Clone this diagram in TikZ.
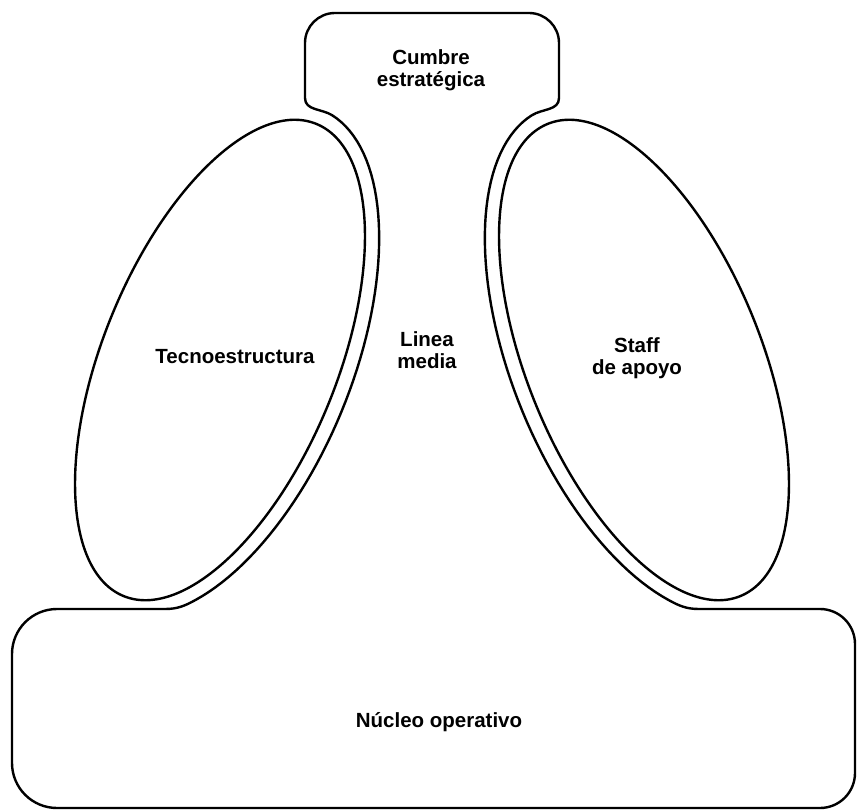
\documentclass[tikz,border=0pt]{standalone}
\usepackage{fontspec}
\setmainfont{Liberation Sans}
\usepackage{tikz}

\begin{document}
\begin{tikzpicture}[
x=0.5pt, y=0.5pt,
outline/.style={draw=black, line width=1.2pt, line join=round},
lobe/.style={draw=black, line width=1.2pt},
tag/.style={align=center, inner sep=0pt, font=\fontsize{10.25}{11}\selectfont\bfseries}
]
\useasboundingbox (0,0) rectangle (857,810);
% contour: cumbre, linea media, nucleo
\draw[outline] (305,712) -- (305,767) arc[start angle=180, end angle=90, radius=30]
  -- (529,797) arc[start angle=90, end angle=0, radius=30]
  -- (559,712) to[out=-90, in=32.4] (531.8,694.7)
  -- plot[domain=5:149, samples=60] ({644-102*cos(\x)-122.2*sin(\x)}, {450+250*cos(\x)-49.9*sin(\x)})
  to[out=-28.7, in=180] (699,201)
  -- (820,201) arc[start angle=90, end angle=0, radius=35]
  -- (855,37) arc[start angle=0, end angle=-90, radius=35]
  -- (57,2) arc[start angle=270, end angle=180, radius=45]
  -- (12,156) arc[start angle=180, end angle=90, radius=45]
  -- (165,201) to[out=0, in=208.7] (195.5,210)
  -- plot[domain=-149:-5, samples=60] ({220+102*cos(\x)-122.2*sin(\x)}, {450+250*cos(\x)+49.9*sin(\x)})
  to[out=147.6, in=-90] (305,712) -- cycle;
% the two lobes
\draw[lobe, rotate around={67.8:(220,450)}] (220,450) ellipse [x radius=255, y radius=117];
\draw[lobe, rotate around={-67.8:(644,450)}] (644,450) ellipse [x radius=255, y radius=117];
\node[tag] (cumbre) at (431,740) {Cumbre\\estratégica};
\node[tag] (tecno) at (235,453) {Tecnoestructura};
\node[tag] (linea) at (427,460) {Linea\\media};
\node[tag] (staff) at (637,452) {Staff\\de apoyo};
\node[tag] (nucleo) at (439,88) {Núcleo operativo};
\end{tikzpicture}
\end{document}
